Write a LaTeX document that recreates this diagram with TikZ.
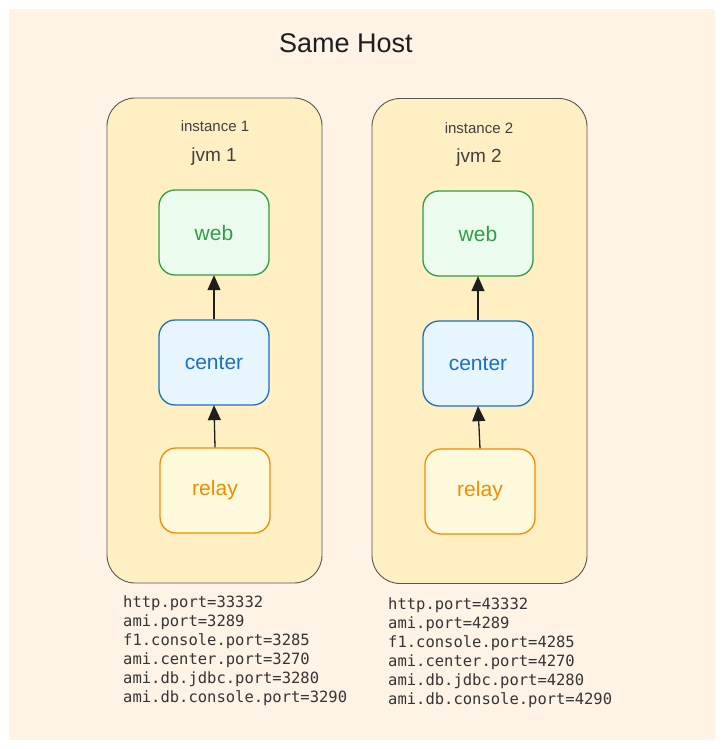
\documentclass[tikz,border=0pt]{standalone}
\usepackage{fontspec}
\setmainfont{Liberation Sans}
\newfontfamily\portfont{DejaVu Sans Mono}
\usetikzlibrary{arrows.meta}
\definecolor{bgc}{HTML}{FFF3E5}
\definecolor{instfill}{HTML}{FFEFC2}
\definecolor{inststroke}{HTML}{555555}
\definecolor{ink}{HTML}{1E1E1E}
\definecolor{webfill}{HTML}{EBFBEE}
\definecolor{webc}{HTML}{2F9E44}
\definecolor{cenfill}{HTML}{E7F5FF}
\definecolor{cenc}{HTML}{1971C2}
\definecolor{relfill}{HTML}{FFF9DB}
\definecolor{relc}{HTML}{F08C00}
\tikzset{
  instbox/.style={draw=inststroke, fill=instfill, line width=0.9pt, rounded corners=28pt,
    minimum width=215pt, minimum height=485pt, inner sep=0pt},
  comp/.style={rounded corners=16pt, line width=1.3pt, minimum width=110pt, minimum height=85pt,
    inner sep=0pt, font=\fontsize{21}{25}\selectfont},
  webbox/.style={comp, draw=webc, fill=webfill, text=webc},
  cenbox/.style={comp, draw=cenc, fill=cenfill, text=cenc},
  relbox/.style={comp, draw=relc, fill=relfill, text=relc},
  smalllbl/.style={text=ink!85, font=\fontsize{15}{18}\selectfont, inner sep=0pt},
  jvmlbl/.style={text=ink!85, font=\fontsize{19}{22}\selectfont, inner sep=0pt},
  ports/.style={text=ink!90, font=\portfont\fontsize{15.5}{19}\selectfont, align=left,
    anchor=north west, inner sep=0pt},
  link/.style={draw=ink, line width=1.3pt, -{Triangle[width=13pt,length=15pt]}, shorten >=-0.5pt},
}
\begin{document}
\begin{tikzpicture}[x=1pt,y=-1pt]
\useasboundingbox (0,0) rectangle (723,749);
\fill[bgc] (9,9) rectangle (715,740);
\node[text=ink, font=\fontsize{27}{32}\selectfont, inner sep=0pt] (title) at (346,43) {Same Host};

% instance 1
\node[instbox] (inst1) at (214.5,340.5) {};
\node[smalllbl] (lbl1) at (215,126) {instance 1};
\node[jvmlbl] (jvm1) at (214,157) {jvm 1};
\node[webbox] (web1) at (214,232.5) {web};
\node[cenbox] (cen1) at (214,362.5) {center};
\node[relbox] (rel1) at (215,490.5) {relay};
\draw[link] (cen1.north) -- (web1.south);
\draw[link] (rel1.north) -- (cen1.south);

% instance 2
\node[instbox] (inst2) at (479.5,341) {};
\node[smalllbl] (lbl2) at (479,128) {instance 2};
\node[jvmlbl] (jvm2) at (479,158) {jvm 2};
\node[webbox] (web2) at (478,233.5) {web};
\node[cenbox] (cen2) at (478,363.5) {center};
\node[relbox] (rel2) at (480,491.5) {relay};
\draw[link] (cen2.north) -- (web2.south);
\draw[link] (rel2.north) -- (cen2.south);

\node[ports] (ports1) at (123,596) {http.port=33332\\ami.port=3289\\f1.console.port=3285\\ami.center.port=3270\\ami.db.jdbc.port=3280\\ami.db.console.port=3290};
\node[ports] (ports2) at (388,598) {http.port=43332\\ami.port=4289\\f1.console.port=4285\\ami.center.port=4270\\ami.db.jdbc.port=4280\\ami.db.console.port=4290};
\end{tikzpicture}
\end{document}
